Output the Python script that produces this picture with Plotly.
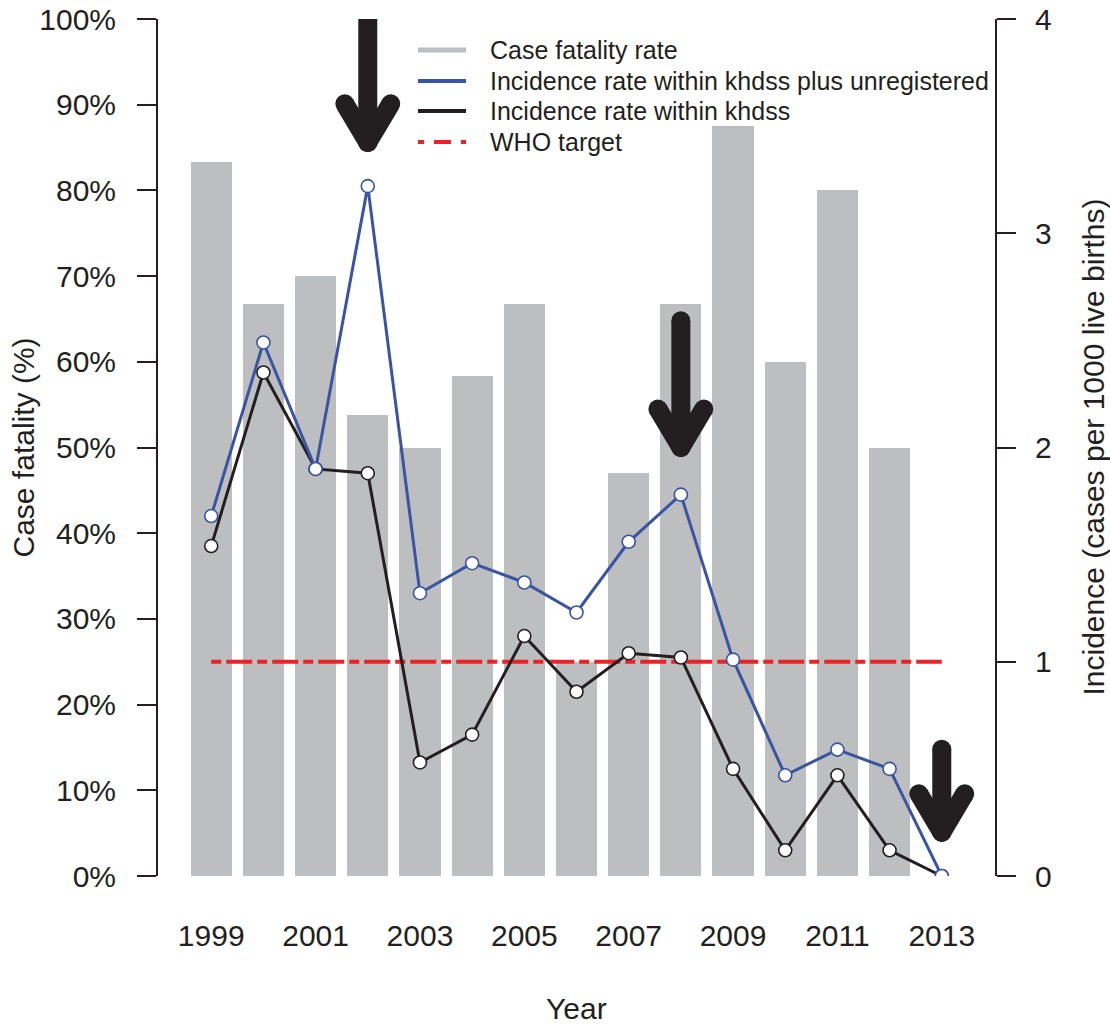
import plotly.graph_objects as go

# ---- data ----
years = list(range(1999, 2014))
case_fatality_pct = [83.3, 66.7, 70.0, 53.8, 50.0, 58.3, 66.7, 25.0, 47.0, 66.7, 87.5, 60.0, 80.0, 50.0, 0.0]
incidence_plus_unreg = [1.68, 2.49, 1.90, 3.22, 1.32, 1.46, 1.37, 1.23, 1.56, 1.78, 1.01, 0.47, 0.59, 0.50, 0.0]
incidence_khdss = [1.54, 2.35, 1.90, 1.88, 0.53, 0.66, 1.12, 0.86, 1.04, 1.02, 0.50, 0.12, 0.47, 0.12, 0.0]
who_target = 1.0
x_tick_years = [1999, 2001, 2003, 2005, 2007, 2009, 2011, 2013]
left_ticks = list(range(0, 101, 10))
right_ticks = [0, 1, 2, 3, 4]

# arrows: (year, shaft top %, tip %)
arrow_years = [2002, 2008, 2013]
arrow_tops = [106.0, 64.8, 14.8]
arrow_tips = [85.6, 50.0, 5.1]

legend_labels = ["Case fatality rate",
                 "Incidence rate within khdss plus unregistered",
                 "Incidence rate within khdss",
                 "WHO target"]

GREY = "#BCBEC0"
BLUE = "#3A54A4"
BLACK = "#231F20"
RED = "#EC2227"
FONT = "Liberation Sans, Arial, sans-serif"

fig = go.Figure()

fig.add_trace(go.Bar(
    x=years, y=case_fatality_pct, width=0.79, marker=dict(color=GREY, line=dict(width=0)),
    name=legend_labels[0], showlegend=False, hoverinfo="skip", yaxis="y"))

# arrows (thick line segments with round ends)
dx, dy = 0.44, 4.5
for yr, top, tip in zip(arrow_years, arrow_tops, arrow_tips):
    xs = [yr, yr, None, yr - dx, yr, None, yr, yr + dx]
    ys = [top, tip, None, tip + dy, tip, None, tip, tip + dy]
    fig.add_trace(go.Scatter(
        x=xs, y=ys, mode="lines+markers", yaxis="y",
        line=dict(color=BLACK, width=19),
        marker=dict(color=BLACK, size=19, line=dict(width=0)),
        showlegend=False, hoverinfo="skip"))

fig.add_trace(go.Scatter(
    x=[years[0], years[-1]], y=[who_target, who_target], mode="lines", name=legend_labels[3],
    line=dict(color=RED, width=4, dash="10px,5px,26px,5px"), yaxis="y2",
    showlegend=False, hoverinfo="skip"))

fig.add_trace(go.Scatter(
    x=years, y=incidence_khdss, mode="lines+markers", name=legend_labels[2],
    line=dict(color=BLACK, width=3),
    marker=dict(size=13, color="white", line=dict(color=BLACK, width=1.6)),
    yaxis="y2", showlegend=False))

fig.add_trace(go.Scatter(
    x=years, y=incidence_plus_unreg, mode="lines+markers", name=legend_labels[1],
    line=dict(color=BLUE, width=3),
    marker=dict(size=13, color="white", line=dict(color=BLUE, width=1.6)),
    yaxis="y2", showlegend=False))

# ---- manual legend (matches the reference's compact layout) ----
leg_colors = [GREY, BLUE, BLACK, RED]
leg_widths = [5, 4, 4, 4]
leg_dash = ["solid", "solid", "solid", "6px,10px,17px,10px"]
leg_y = [0.9638, 0.9277, 0.8926, 0.8565]
shapes = []
annotations = []
for lab, c, w, d, yy in zip(legend_labels, leg_colors, leg_widths, leg_dash, leg_y):
    shapes.append(dict(type="line", xref="paper", yref="paper", x0=0.3106, x1=0.368,
                       y0=yy, y1=yy, line=dict(color=c, width=w, dash=d)))
    annotations.append(dict(text=lab, xref="paper", yref="paper", x=0.3943, y=yy,
                            xanchor="left", yanchor="middle", showarrow=False,
                            font=dict(size=25, color=BLACK)))

annotations += [
    dict(text="Year", xref="paper", yref="paper", x=0.5, y=0, yshift=-132,
         showarrow=False, font=dict(size=30), xanchor="center", yanchor="middle"),
    dict(text="Case fatality (%)", xref="paper", yref="paper", x=0, xshift=-135, y=0.5,
         textangle=-90, showarrow=False, font=dict(size=30), xanchor="center", yanchor="middle"),
    dict(text="Incidence (cases per 1000 live births)", xref="paper", yref="paper", x=1,
         xshift=98, y=0.5, textangle=-90, showarrow=False, font=dict(size=30),
         xanchor="center", yanchor="middle"),
]

fig.update_layout(
    width=1110, height=1025,
    margin=dict(l=158, r=115, t=19, b=149, autoexpand=False),
    paper_bgcolor="white", plot_bgcolor="white",
    font=dict(family=FONT, color=BLACK, size=30),
    bargap=0,
    showlegend=False,
    xaxis=dict(range=[1997.98, 2014.02], tickvals=x_tick_years,
               ticktext=[str(v) for v in x_tick_years],
               showgrid=False, zeroline=False, showline=False, automargin=False,
               ticks="outside", ticklen=33, tickcolor="rgba(0,0,0,0)",
               ticklabeloverflow="allow", tickfont=dict(size=30)),
    yaxis=dict(range=[0, 100], tickvals=left_ticks,
               ticktext=[f"{v}%" for v in left_ticks], automargin=False,
               showgrid=False, zeroline=False, showline=True, linecolor=BLACK, linewidth=2,
               ticks="outside", ticklen=19, tickwidth=2, tickcolor=BLACK,
               ticklabelstandoff=15, ticklabeloverflow="allow", tickfont=dict(size=30)),
    yaxis2=dict(range=[0, 4], overlaying="y", side="right", tickvals=right_ticks,
                showgrid=False, zeroline=False, showline=True, linecolor=BLACK, linewidth=2,
                automargin=False,
                ticks="outside", ticklen=19, tickwidth=2, tickcolor=BLACK,
                ticklabelstandoff=13, ticklabeloverflow="allow", tickfont=dict(size=30)),
    shapes=shapes,
    annotations=annotations,
)

fig.write_html("out.html", config={"displayModeBar": False},
               post_script="document.body.style.margin='0';")
